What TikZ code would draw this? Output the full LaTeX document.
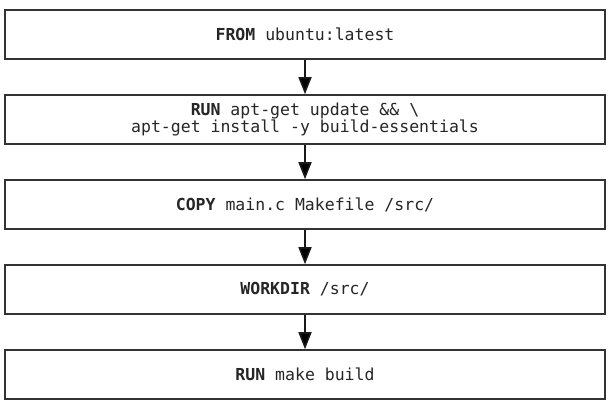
\documentclass[tikz,border=0pt]{standalone}
\usepackage{fontspec}
\setmonofont{DejaVu Sans Mono}
\usetikzlibrary{positioning,arrows.meta}

\begin{document}
\begin{tikzpicture}[->,>={Triangle[length=17pt,width=13pt]},line width=1.6pt,
                    node distance=34.4pt,
                    every node/.style={font=\ttfamily\fontsize{16.5}{13}\selectfont,text=black!85}]
  \useasboundingbox (0,0) rectangle (609pt,-404pt);
  \tikzset{layer/.style={draw=black!80,fill=white,minimum width=600pt,minimum height=49pt,
                         align=center,inner sep=0pt}}

  \node[layer] (from) at (305pt,-34.5pt) {\textbf{FROM} ubuntu:latest};
  \node[layer,below=of from] (update) {\textbf{RUN} apt-get update \&\& \textbackslash\\apt-get install -y build-essentials};
  \node[layer,below=of update] (copy) {\textbf{COPY} main.c Makefile /src/};
  \node[layer,below=of copy] (workdir) {\textbf{WORKDIR} /src/};
  \node[layer,below=of workdir] (make) {\textbf{RUN} make build};

  \path[draw=black!90] (from) edge (update)
        (update) edge (copy)
        (copy) edge (workdir)
        (workdir) edge (make);
\end{tikzpicture}
\end{document}
